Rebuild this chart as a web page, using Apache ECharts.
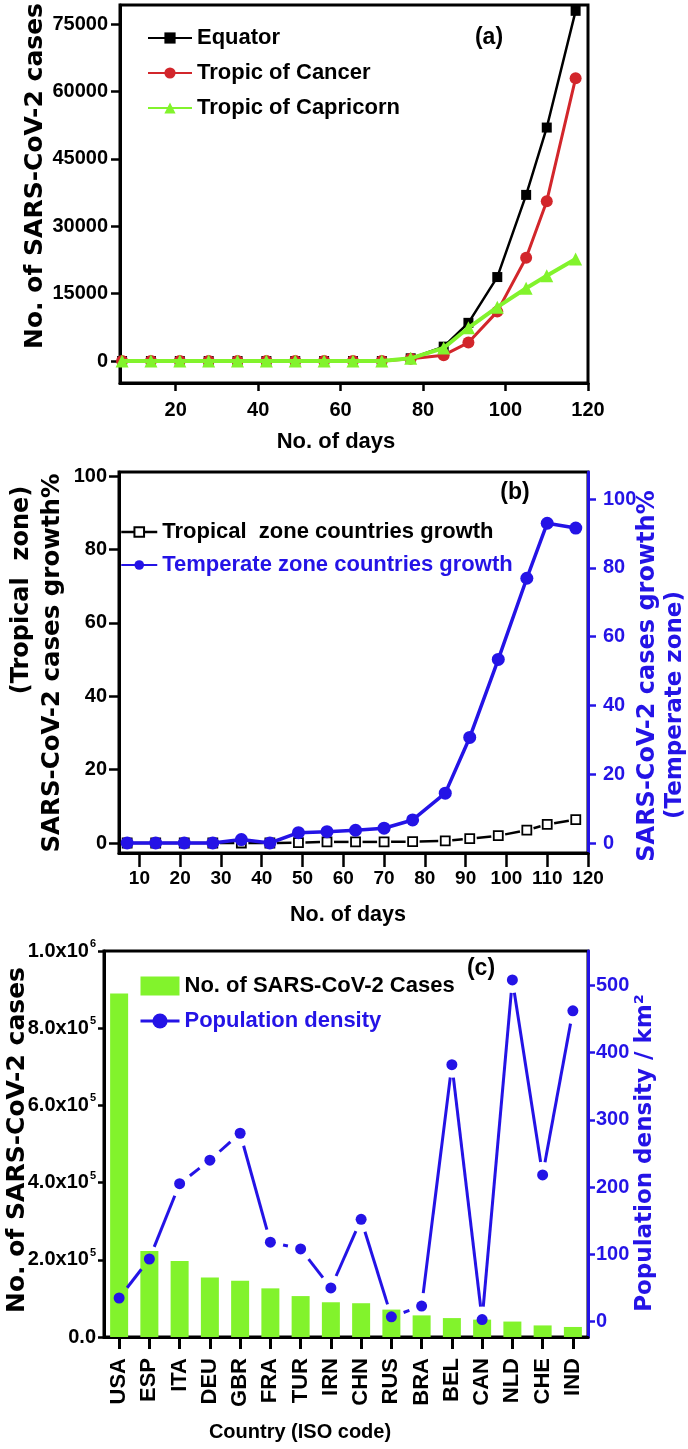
<!DOCTYPE html>
<html><head><meta charset="utf-8">
<script src="https://cdn.jsdelivr.net/npm/echarts@6/dist/echarts.min.js"></script>
<style>html,body{margin:0;padding:0;background:#fff}#c{width:688px;height:1449px}</style>
</head><body><div id="c"></div>
<script>
// ---------- data ----------
const days = [7,14,21,28,35,42,49,56,63,70,77,85,91,98,105,110,117];
const equator   = [0,0,0,0,0,0,0,0,0,0,600,3200,8500,18700,37000,52000,78000];
const cancer    = [0,0,0,0,0,0,0,0,0,0,500,1300,4100,11000,23000,35600,63000];
const capricorn = [0,0,0,0,0,0,0,0,0,0,600,2900,7400,12000,16200,19000,22700];

const tropicalGrowth  = [0,0,0,0,0,0,0.1,0.3,0.3,0.3,0.4,0.6,1.2,2.0,3.5,5.1,6.4];
const temperateGrowth = [0,0,0,0,1.0,0,3.0,3.3,3.7,4.3,6.7,14.5,30.7,53.4,77,93,91.6];

const countries = ['USA','ESP','ITA','DEU','GBR','FRA','TUR','IRN','CHN','RUS','BRA','BEL','CAN','NLD','CHE','IND'];
const cases   = [890000,223000,197000,154000,146000,126000,106000,90000,87500,71000,56000,49000,45000,40000,30000,26000];
const density = [35,93,205,240,280,118,108,50,152,7,23,382,3,508,218,462];

const xTicksA = [20,40,60,80,100,120];
const yTicksA = [0,15000,30000,45000,60000,75000];
const xTicksB = [10,20,30,40,50,60,70,80,90,100,110,120];
const yTicksB = [0,20,40,60,80,100];
const yTicksCR = [0,100,200,300,400,500];

// ---------- styles ----------
const BLUE = '#2413e6';
const GREEN = '#82f32c';
const RED = '#d2262b';
const FF = 'Liberation Sans, Arial, sans-serif';
const TF = 'DejaVu Sans, sans-serif';

function lbl(color, size, margin) {
  return {color: color, fontFamily: FF, fontWeight: 'bold', fontSize: size, margin: margin};
}
function plain(v) { return String(v); }
function valAxis(o) {
  const color = o.color || '#000';
  const a = {
    type: 'value', gridIndex: o.grid, min: o.min, max: o.max,
    splitLine: {show: false},
    axisLine: {show: true, onZero: false, lineStyle: {color: color, width: 3}},
    axisTick: {show: true, length: o.tick, lineStyle: {color: color, width: 2.5}},
    axisLabel: Object.assign(lbl(color, o.fs || 20, o.margin), {formatter: plain})
  };
  if (o.position) a.position = o.position;
  if (o.ticks) { a.axisTick.customValues = o.ticks; a.axisLabel.customValues = o.ticks; }
  if (o.interval) a.interval = o.interval;
  if (o.formatter) a.axisLabel.formatter = o.formatter;
  if (o.rich) a.axisLabel.rich = o.rich;
  return a;
}
function pairs(xs, ys) { return xs.map((x, i) => [x, ys[i]]); }
function gapLine(xIdx, yIdx, xs, ys, color, width, gap) {
  const data = [];
  for (let i = 0; i < xs.length - 1; i++) data.push([xs[i], ys[i], xs[i + 1], ys[i + 1]]);
  return {
    type: 'custom', xAxisIndex: xIdx, yAxisIndex: yIdx, clip: false, silent: true, z: 2,
    encode: {x: [0, 2], y: [1, 3]},
    data: data,
    renderItem: function (params, api) {
      const p1 = api.coord([api.value(0), api.value(1)]);
      const p2 = api.coord([api.value(2), api.value(3)]);
      const dx = p2[0] - p1[0], dy = p2[1] - p1[1];
      const len = Math.sqrt(dx * dx + dy * dy);
      if (len <= 2 * gap + 1) return null;
      const ux = dx / len, uy = dy / len;
      return {
        type: 'line',
        shape: {x1: p1[0] + ux * gap, y1: p1[1] + uy * gap, x2: p2[0] - ux * gap, y2: p2[1] - uy * gap},
        style: {stroke: color, lineWidth: width}
      };
    }
  };
}
function sci(v) {
  if (v === 0) return '{m|0.0}';
  const e = Math.floor(Math.log10(v) + 1e-9);
  const m = v / Math.pow(10, e);
  return '{m|' + m.toFixed(1) + 'x10}{s|' + e + '}';
}
function ttl(text, x, y, size, color, rot, family) {
  return {
    type: 'text', x: x, y: y, rotation: rot || 0, silent: true,
    style: {text: text, fill: color || '#000', font: 'bold ' + size + 'px ' + (family || FF),
      align: 'center', verticalAlign: 'middle', textAlign: 'center', textVerticalAlign: 'middle'}
  };
}
const R90 = Math.PI / 2;

const option = {
  animation: false,
  backgroundColor: '#fff',
  grid: [
    {left: 120, top: 5, width: 468, height: 378, show: true, borderColor: '#000', borderWidth: 3},
    {left: 119, top: 472, width: 469, height: 381, show: true, borderColor: '#000', borderWidth: 3},
    {left: 104, top: 951, width: 484, height: 386, show: true, borderColor: '#000', borderWidth: 3}
  ],
  xAxis: [
    valAxis({grid: 0, min: 6.5, max: 120, tick: 8, margin: 17, ticks: xTicksA}),
    valAxis({grid: 1, min: 5, max: 120, tick: 14, margin: 16, ticks: xTicksB, fs: 19}),
    {
      type: 'category', gridIndex: 2, data: countries, boundaryGap: true,
      axisLine: {show: true, lineStyle: {color: '#000', width: 3}},
      axisTick: {show: true, alignWithLabel: true, length: 12, lineStyle: {color: '#000', width: 3}},
      axisLabel: {rotate: 90, margin: 21, color: '#000', fontFamily: FF, fontWeight: 'bold', fontSize: 22, interval: 0},
      splitLine: {show: false}
    }
  ],
  yAxis: [
    valAxis({grid: 0, min: -4900, max: 79300, tick: 9, margin: 12, ticks: yTicksA}),
    valAxis({grid: 1, min: -2.72, max: 101.1, tick: 10, margin: 12, ticks: yTicksB}),
    valAxis({grid: 1, min: -2.91, max: 107.9, tick: 8, margin: 15, ticks: yTicksB, color: BLUE, position: 'right'}),
    valAxis({grid: 2, min: 0, max: 1000000, interval: 200000, tick: 6, margin: 8, formatter: sci,
      rich: {m: {fontFamily: FF, fontWeight: 'bold', fontSize: 20, color: '#000'},
             s: {fontFamily: FF, fontWeight: 'bold', fontSize: 11, color: '#000', padding: [0, 0, 14, 1]}}}),
    valAxis({grid: 2, min: -23, max: 551, tick: 7, margin: 8, ticks: yTicksCR, color: BLUE, position: 'right'})
  ],
  legend: [
    {
      data: ['Equator', 'Tropic of Cancer', 'Tropic of Capricorn'],
      orient: 'vertical', left: 142, top: 22, itemWidth: 44, itemHeight: 14, itemGap: 13,
      selectedMode: false,
      textStyle: {fontSize: 22, fontWeight: 'bold', fontFamily: FF, color: '#000', lineHeight: 22}
    },
    {
      data: [
        {name: 'Tropical  zone countries growth', lineStyle: {opacity: 1, width: 2.5, color: '#000'}},
        {name: 'Temperate zone countries growth', textStyle: {color: BLUE}}
      ],
      orient: 'vertical', left: 115, top: 516, itemWidth: 36, itemHeight: 12, itemGap: 11,
      selectedMode: false,
      textStyle: {fontSize: 22, fontWeight: 'bold', fontFamily: FF, color: '#000', lineHeight: 22}
    },
    {
      data: [
        {name: 'No. of SARS-CoV-2 Cases', icon: 'rect'},
        {name: 'Population density', lineStyle: {opacity: 1, width: 3, color: BLUE}, textStyle: {color: BLUE}}
      ],
      orient: 'vertical', left: 134, top: 970, itemWidth: 39, itemHeight: 19, itemGap: 13,
      selectedMode: false,
      textStyle: {fontSize: 22, fontWeight: 'bold', fontFamily: FF, color: '#000', lineHeight: 22}
    }
  ],
  series: [
    {name: 'Equator', type: 'line', xAxisIndex: 0, yAxisIndex: 0, data: pairs(days, equator),
      symbol: 'rect', symbolSize: 10, color: '#000', lineStyle: {width: 2.5, color: '#000'}, z: 4},
    {name: 'Tropic of Cancer', type: 'line', xAxisIndex: 0, yAxisIndex: 0, data: pairs(days, cancer),
      symbol: 'circle', symbolSize: 12, color: RED, lineStyle: {width: 3, color: RED}, z: 5},
    {name: 'Tropic of Capricorn', type: 'line', xAxisIndex: 0, yAxisIndex: 0, data: pairs(days, capricorn),
      symbol: 'triangle', symbolSize: 13, color: GREEN, lineStyle: {width: 4, color: GREEN}, z: 6},

    gapLine(1, 1, days, tropicalGrowth, '#000', 2.5, 7),
    {name: 'Tropical  zone countries growth', type: 'line', xAxisIndex: 1, yAxisIndex: 1,
      data: pairs(days, tropicalGrowth), symbol: 'rect', symbolSize: 9,
      itemStyle: {color: '#fff', borderColor: '#000', borderWidth: 1.8}, color: '#000',
      lineStyle: {opacity: 0}, z: 3},
    {name: 'Temperate zone countries growth', type: 'line', xAxisIndex: 1, yAxisIndex: 2,
      data: pairs(days, temperateGrowth), symbol: 'circle', symbolSize: 13, color: BLUE,
      lineStyle: {width: 3.5, color: BLUE}, z: 5},

    {name: 'No. of SARS-CoV-2 Cases', type: 'bar', xAxisIndex: 2, yAxisIndex: 3, data: cases,
      barWidth: 18, itemStyle: {color: GREEN}, z: 1},
    gapLine(2, 4, countries.map((c, i) => i), density, BLUE, 3, 13),
    {name: 'Population density', type: 'line', xAxisIndex: 2, yAxisIndex: 4, data: density,
      symbol: 'circle', symbolSize: 11, color: BLUE, lineStyle: {opacity: 0}, z: 4}
  ],
  graphic: [
    ttl('No. of SARS-CoV-2 cases', 35, 176, 25, '#000', R90, TF),
    ttl('No. of days', 336, 442, 22, '#000'),
    ttl('(a)', 489, 38, 23, '#000'),

    ttl('(Tropical  zone)', 22, 590, 24, '#000', R90, TF),
    ttl('SARS-CoV-2 cases growth%', 53, 663, 24.5, '#000', R90, TF),
    ttl('SARS-CoV-2 cases growth%', 648, 676, 24, BLUE, R90, TF),
    ttl('(Temperate zone)', 675, 705, 23, BLUE, R90, TF),
    ttl('No. of days', 348, 915, 21.5, '#000'),
    ttl('(b)', 515, 493, 23, '#000'),

    ttl('No. of SARS-CoV-2 cases', 17, 1140, 25, '#000', R90, TF),
    ttl('Population density / km²', 645, 1153, 23, BLUE, R90, TF),
    ttl('Country (ISO code)', 300, 1432, 20, '#000'),
    ttl('(c)', 481, 969, 23, '#000')
  ]
};
const chart = echarts.init(document.getElementById('c'), null, {renderer: 'canvas', width: 688, height: 1449});
chart.setOption(option);
</script>
</body></html>
